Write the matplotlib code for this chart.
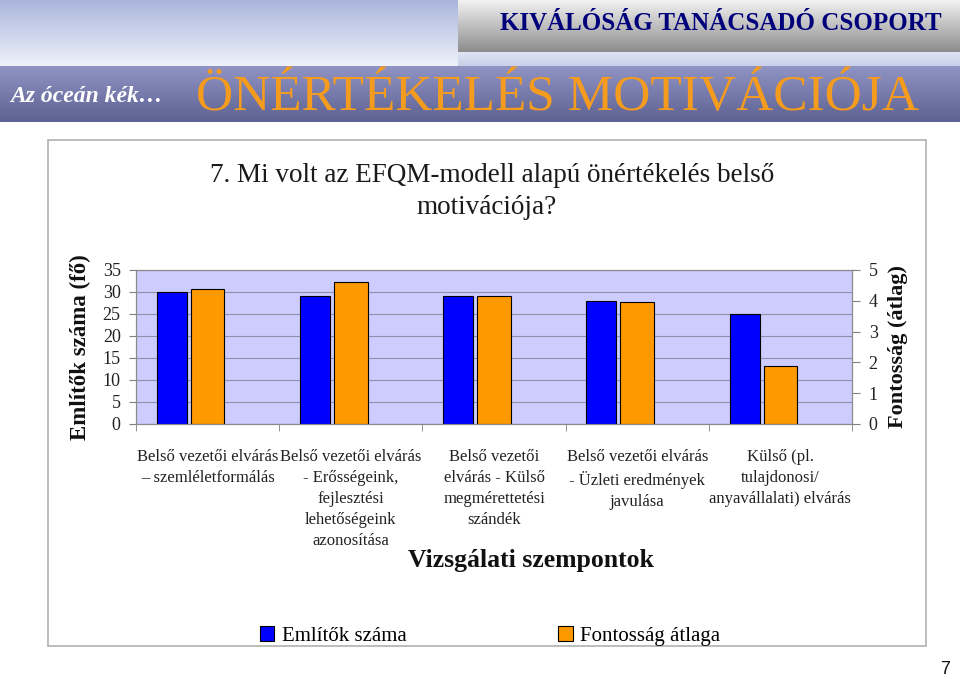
import numpy as np
import matplotlib
matplotlib.use("Agg")
import matplotlib.pyplot as plt
from matplotlib.patches import Rectangle
from matplotlib.colors import LinearSegmentedColormap

W, H = 960, 679

categories = [
    "Belső vezetői elvárás\n– szemléletformálás",
    "Belső vezetői elvárás\n- Erősségeink,\nfejlesztési\nlehetőségeink\nazonosítása",
    "Belső vezetői\nelvárás - Külső\nmegmérettetési\nszándék",
    "Belső vezetői elvárás\n- Üzleti eredmények\njavulása",
    "Külső (pl.\ntulajdonosi/\nanyavállalati) elvárás",
]
mentions = [30, 29, 29, 28, 25]
importance = [4.37, 4.6, 4.16, 3.95, 1.88]
left_ticks = [0, 5, 10, 15, 20, 25, 30, 35]
right_ticks = [0, 1, 2, 3, 4, 5]

SERIF = "Liberation Serif"


def px_axes(fig, x0, y0, x1, y1):
    # axes from pixel box (top-left origin)
    return fig.add_axes([x0 / W, 1 - y1 / H, (x1 - x0) / W, (y1 - y0) / H])


def gradient(ax, c_top, c_bottom):
    cmap = LinearSegmentedColormap.from_list("g", [c_top, c_bottom])
    ax.imshow(np.linspace(0, 1, 100).reshape(-1, 1), aspect="auto", cmap=cmap,
              extent=(0, 1, 0, 1), origin="upper")
    ax.set_axis_off()


fig = plt.figure(figsize=(W / 100, H / 100), dpi=100)
fig.patch.set_facecolor("white")

# header pieces
sky = px_axes(fig, 0, 0, 458, 66)
gradient(sky, "#aab5dc", "#eef1fa")
strip = px_axes(fig, 458, 52, 960, 66)
gradient(strip, "#dfe4f3", "#c9cfe8")
box = px_axes(fig, 458, 0, 960, 52)
gradient(box, "#f2f2f2", "#8c8c8c")
band = px_axes(fig, 0, 66, 960, 122)
gradient(band, "#9094c4", "#5e6292")

fig.text(721 / W, 1 - 23 / H, "KIVÁLÓSÁG TANÁCSADÓ CSOPORT", ha="center", va="center",
         fontsize=18, fontweight="bold", color="#00007a", family=SERIF)
fig.text(10 / W, 1 - 97 / H, "Az óceán kék…", ha="left", va="center",
         fontsize=17, fontweight="bold", fontstyle="italic", color="white", family=SERIF)
fig.text(557 / W, 1 - 98 / H, "ÖNÉRTÉKELÉS MOTIVÁCIÓJA", ha="center", va="center",
         fontsize=37, color="#f59b1e", family=SERIF)

# chart frame
fig.patches.append(Rectangle((48 / W, 1 - 646 / H), (926 - 48) / W, (646 - 140) / H,
                             transform=fig.transFigure, fill=False,
                             edgecolor="#b0b0b0", linewidth=1.2))

fig.text(492 / W, 1 - 176 / H, "7. Mi volt az EFQM-modell alapú önértékelés belső",
         ha="center", va="center", fontsize=19.5, color="#1a1a1a", family=SERIF)
fig.text(487 / W, 1 - 207 / H, "motivációja?",
         ha="center", va="center", fontsize=19.5, color="#1a1a1a", family=SERIF)

# main chart
ax = px_axes(fig, 136, 270, 852, 424)
ax2 = ax.twinx()
x = np.arange(len(categories))

ax.set_facecolor("#ccccff")
ax.set_zorder(0)
ax2.set_zorder(1)
ax2.patch.set_visible(False)

b1 = ax2.bar(x - 0.25, np.array(mentions) / 7.0, width=0.21, color="#0000ff",
             edgecolor="black", linewidth=0.8, label="Említők száma")
b2 = ax2.bar(x, importance, width=0.235, color="#ff9900",
             edgecolor="black", linewidth=0.8, label="Fontosság átlaga")

ax.set_ylim(0, 35)
ax2.set_ylim(0, 5)
ax.set_xlim(-0.5, len(categories) - 0.5)
ax.set_yticks(left_ticks)
ax2.set_yticks(right_ticks)
ax.grid(axis="y", color="#8f8fa8", linewidth=0.8)
ax.set_axisbelow(True)

ax.set_xticks(x)
ax.set_xticklabels(categories, fontsize=12, color="#222222", family=SERIF,
                   linespacing=1.42, va="top")
ax.set_xticks(np.arange(-0.5, len(categories)), minor=True)
ax.tick_params(axis="x", which="major", length=0, pad=18)
ax.tick_params(axis="x", which="minor", length=5, color="#808080")
ax.tick_params(axis="y", length=5, color="#808080", pad=6, labelsize=13)
ax2.tick_params(axis="y", length=6, color="#808080", pad=6, labelsize=13)
for lab in ax.get_yticklabels() + ax2.get_yticklabels():
    lab.set_family(SERIF)
    lab.set_color("#222222")

for a in (ax, ax2):
    for s in a.spines.values():
        s.set_color("#8a8a8a")
        s.set_linewidth(0.8)

ax.set_ylabel("Említők száma (fő)", fontsize=16.5, fontweight="bold", family=SERIF,
              color="#111111", labelpad=8)
ax2.set_ylabel("Fontosság (átlag)", fontsize=16, fontweight="bold", family=SERIF,
               color="#111111", labelpad=7)

fig.text(531 / W, 1 - 561 / H, "Vizsgálati szempontok", ha="center", va="center",
         fontsize=18.5, fontweight="bold", color="#111111", family=SERIF)

fig.legend(handles=[b1, b2], loc="center", bbox_to_anchor=(490 / W, 1 - 636 / H),
           ncol=2, frameon=False, prop={"family": SERIF, "size": 15},
           handlelength=0.7, handleheight=0.7, handletextpad=0.35,
           columnspacing=7.3)

fig.text(945 / W, 1 - 670 / H, "7", ha="center", va="center", fontsize=13,
         color="#111111", family="Liberation Sans")

fig.savefig("out.png", dpi=100)
